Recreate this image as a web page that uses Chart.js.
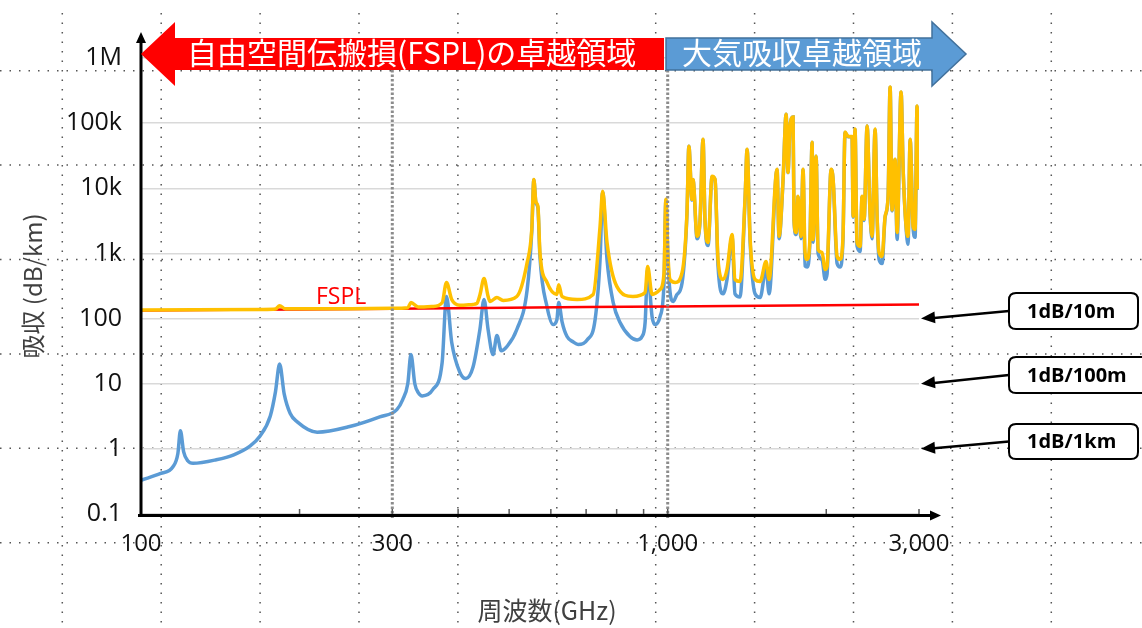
<!DOCTYPE html>
<html>
<head>
<meta charset="utf-8">
<script src="https://cdn.jsdelivr.net/npm/chart.js@4.4.1/dist/chart.umd.min.js"></script>
<style>
  body { margin: 0; background: #fff; }
  canvas { display: block; }
</style>
</head>
<body>
<canvas id="c" width="1142" height="628"></canvas>
<script>
// tick values / labels
const yTicks = [0.1, 1, 10, 100, 1000, 10000, 100000, 1000000]
const yTickLabels = ['0.1', '1', '10', '100', '1k', '10k', '100k', '1M']
const xTicks = [100, 300, 1000, 3000]
const xTickLabels = ['100', '300', '1,000', '3,000']
const xMinorTicks = [200, 300, 400, 500, 600, 700, 800, 900, 1000, 2000, 3000]
const regionLines = [300, 1000]

// atmospheric absorption (blue), dB/km
const absFreq = [100, 109, 115, 117.5, 118.8, 120.5, 122.8, 125.5, 139, 150, 161, 168, 176, 180, 183.3, 187, 192, 198, 216, 249,
  284, 306, 314, 321, 325.5, 331, 336, 342, 358, 373, 380.2, 389, 403, 414, 427, 440, 448, 456, 466, 474,
  483, 495, 517, 541, 552, 557, 562, 567, 572, 590, 606, 616, 621, 630, 644, 661, 676, 703, 728, 744,
  752.5, 767, 788, 812, 848, 875, 894, 906, 916, 934, 946, 967, 984, 992, 1001, 1010, 1024, 1040, 1065, 1088,
  1097, 1112, 1117, 1137, 1152, 1167, 1177, 1193, 1214, 1230, 1246, 1274, 1296, 1325, 1342, 1372, 1403, 1415, 1434, 1465,
  1498, 1537, 1558, 1613, 1627, 1656, 1678, 1692, 1707, 1730, 1737, 1753, 1768, 1791, 1807, 1823, 1839, 1863, 1880, 1888,
  1913, 1930, 1964, 1990, 2007, 2043, 2061, 2097, 2124, 2152, 2171, 2200, 2239, 2249, 2268, 2288, 2319, 2339, 2360, 2391,
  2422, 2444, 2476, 2498, 2520, 2553, 2587, 2621, 2644, 2667, 2702, 2726, 2774, 2799, 2836, 2860, 2886, 2924, 2949, 2975, 3000]
const absVal = [0.33, 0.42, 0.53, 0.85, 1.9, 0.9, 0.65, 0.6, 0.68, 0.81, 1.1, 1.55, 3.2, 7.5, 20, 7, 3.5, 2.6, 1.8, 2.2,
  3.1, 4.0, 5.7, 10, 28, 10, 7.3, 6.5, 8.1, 21, 218, 43, 15, 12, 18, 68, 196, 68, 28, 55,
  32, 37, 68, 279, 2200, 13500, 6000, 5000, 900, 153, 81, 96, 176, 90, 53, 44, 40, 47, 96, 800,
  8800, 800, 176, 87, 53, 47, 53, 87, 560, 107, 81, 107, 358, 6600, 800, 260, 183, 230, 355, 4100,
  44000, 6600, 13500, 1680, 3200, 56000, 3200, 1320, 15000, 13500, 650, 240, 400, 1800, 240, 215, 7400, 39500, 1480, 240,
  210, 590, 240, 19400, 1680, 13500, 137000, 17400, 90000, 124000, 3200, 1950, 7400, 1680, 19400, 640, 620, 1680, 51000, 1480,
  31000, 1000, 800, 400, 480, 19400, 13500, 700, 620, 1680, 72000, 62000, 62000, 3600, 80000, 1300, 1070, 7400, 3200, 90000,
  4100, 1680, 80000, 3600, 800, 700, 3600, 7400, 355000, 4500, 27700, 1640, 298000, 19400, 2400, 1380, 56000, 2400, 1770, 182000, 9500]

// FSPL + absorption (yellow)
const totFreq = [100, 170, 180, 183.3, 188, 250, 300, 321, 325.5, 336, 358, 373, 380.2, 389, 403, 427, 434, 440, 448, 456,
  460, 474, 487, 517, 541, 552, 557, 562, 567, 572, 590, 616, 621, 630, 673, 722, 744, 752.5, 767, 801,
  859, 906, 916, 934, 967, 984, 992, 1001, 1010, 1033, 1065, 1088,
  1097, 1112, 1117, 1137, 1152, 1167, 1177, 1193, 1214, 1230, 1246, 1274, 1296, 1325, 1342, 1372, 1403, 1415, 1434, 1465,
  1498, 1537, 1558, 1613, 1627, 1656, 1678, 1692, 1707, 1730, 1737, 1753, 1768, 1791, 1807, 1823, 1839, 1863, 1880, 1888,
  1913, 1930, 1964, 1990, 2007, 2043, 2061, 2097, 2124, 2152, 2171, 2200, 2239, 2249, 2268, 2288, 2319, 2339, 2360, 2391,
  2422, 2444, 2476, 2498, 2520, 2553, 2587, 2621, 2644, 2667, 2702, 2726, 2774, 2799, 2836, 2860, 2886, 2924, 2949, 2975, 3000]
const totVal = [135, 138, 140, 158, 141, 142, 144, 147, 176, 150, 153, 175, 358, 196, 160, 165, 170, 230, 412, 220,
  183, 210, 190, 218, 728, 2340, 13700, 6200, 5280, 1050, 358, 235, 330, 218, 196, 235, 2600, 9000, 1475, 310,
  218, 251, 631, 235, 279, 500, 6770, 950, 398, 358, 510, 4280,
  44300, 6770, 13700, 1830, 3340, 56700, 3340, 1475, 15300, 13700, 809, 398, 567, 1960, 398, 372, 7540, 39800, 1640, 398,
  372, 750, 398, 19600, 1830, 13700, 137000, 17600, 90000, 124000, 3340, 2100, 7540, 1830, 19600, 1035, 809, 1830, 51000, 1640,
  31000, 1140, 1035, 567, 631, 19600, 13700, 900, 809, 1830, 72800, 62600, 62600, 3710, 81000, 1475, 1280, 7540, 3340, 90000,
  4280, 1830, 81000, 3710, 1035, 900, 3710, 7540, 358000, 4650, 27900, 2100, 300000, 19600, 2560, 1830, 56700, 2560, 2340, 183000, 9660]

// free space path loss over 1 km (red)
const fsplFreq = [100, 150, 200, 300, 500, 700, 1000, 1500, 2000, 3000]
const fsplVal = [133, 136, 138, 142, 147, 150, 153, 157, 160, 165]

const calloutTexts = ['1dB/10m', '1dB/100m', '1dB/1km']

const pts = (xs, ys) => xs.map((x, i) => ({x: x, y: ys[i]}))
const sans = '"Open Sans", "Noto Sans CJK JP", sans-serif'
const jp = '"Noto Sans CJK JP", "Open Sans", sans-serif'

function arrowHead(ctx, x, y, ang, len, half) {
  const c = Math.cos(ang), s = Math.sin(ang)
  ctx.beginPath()
  ctx.moveTo(x, y)
  ctx.lineTo(x - len * c + half * s, y - len * s - half * c)
  ctx.lineTo(x - len * c - half * s, y - len * s + half * c)
  ctx.closePath()
  ctx.fill()
}

function roundRect(ctx, x, y, w, h, r) {
  ctx.beginPath()
  ctx.moveTo(x + r, y)
  ctx.lineTo(x + w - r, y)
  ctx.quadraticCurveTo(x + w, y, x + w, y + r)
  ctx.lineTo(x + w, y + h - r)
  ctx.quadraticCurveTo(x + w, y + h, x + w - r, y + h)
  ctx.lineTo(x + r, y + h)
  ctx.quadraticCurveTo(x, y + h, x, y + h - r)
  ctx.lineTo(x, y + r)
  ctx.quadraticCurveTo(x, y, x + r, y)
  ctx.closePath()
}

const decor = {
  id: 'decor',
  beforeDraw(chart) {
    const ctx = chart.ctx
    ctx.save()
    ctx.fillStyle = '#fff'
    ctx.fillRect(0, 0, chart.width, chart.height)
    // slide guide dots
    ctx.strokeStyle = '#555'
    ctx.lineWidth = 1.5
    ctx.setLineDash([1.5, 8])
    for (let x = 62.3; x < chart.width; x += 98.9) {
      ctx.beginPath(); ctx.moveTo(x, 13); ctx.lineTo(x, chart.height); ctx.stroke()
    }
    for (let y = 70.7; y < chart.height; y += 94.4) {
      ctx.beginPath(); ctx.moveTo(0, y); ctx.lineTo(chart.width, y); ctx.stroke()
    }
    ctx.restore()
  },
  afterDatasetsDraw(chart) {
    const ctx = chart.ctx
    const xs = chart.scales.x
    const area = chart.chartArea
    ctx.save()
    // region boundaries
    ctx.strokeStyle = '#8c8c8c'
    ctx.lineWidth = 3
    ctx.setLineDash([2.5, 2])
    regionLines.forEach(v => {
      const px = xs.getPixelForValue(v)
      ctx.beginPath(); ctx.moveTo(px, 70); ctx.lineTo(px, area.bottom + 6); ctx.stroke()
    })
    ctx.setLineDash([])
    // axes
    ctx.strokeStyle = '#000'
    ctx.fillStyle = '#000'
    ctx.lineWidth = 3
    ctx.beginPath(); ctx.moveTo(area.left, area.bottom + 3); ctx.lineTo(area.left, 42); ctx.stroke()
    arrowHead(ctx, area.left, 32, -Math.PI / 2, 11, 5)
    ctx.beginPath(); ctx.moveTo(area.left - 3, area.bottom + 1.5); ctx.lineTo(932, area.bottom + 1.5); ctx.stroke()
    arrowHead(ctx, 941, area.bottom + 1.5, 0, 11, 5)
    // minor ticks on x axis
    ctx.strokeStyle = '#595959'
    ctx.lineWidth = 1.5
    xMinorTicks.forEach(v => {
      const px = xs.getPixelForValue(v)
      ctx.beginPath(); ctx.moveTo(px, area.bottom); ctx.lineTo(px, area.bottom - 5); ctx.stroke()
    })
    ctx.restore()
  },
  afterDraw(chart) {
    const ctx = chart.ctx
    const ys = chart.scales.y
    ctx.save()
    // red banner (left arrow)
    ctx.fillStyle = '#ff0000'
    ctx.beginPath()
    ctx.moveTo(141, 54); ctx.lineTo(175, 22); ctx.lineTo(175, 38); ctx.lineTo(664, 38)
    ctx.lineTo(664, 70); ctx.lineTo(175, 70); ctx.lineTo(175, 86); ctx.closePath()
    ctx.fill()
    // blue banner (right arrow)
    ctx.fillStyle = '#5b9bd5'
    ctx.strokeStyle = '#41719c'
    ctx.lineWidth = 1.5
    ctx.beginPath()
    ctx.moveTo(666, 38); ctx.lineTo(932, 38); ctx.lineTo(932, 22); ctx.lineTo(966, 54)
    ctx.lineTo(932, 86); ctx.lineTo(932, 70); ctx.lineTo(666, 70); ctx.closePath()
    ctx.fill(); ctx.stroke()
    ctx.fillStyle = '#fff'
    ctx.textBaseline = 'middle'
    ctx.textAlign = 'left'
    ctx.font = '30px ' + jp
    ctx.fillText('自由空間伝搬損(FSPL)の卓越領域', 187, 53)
    ctx.fillText('大気吸収卓越領域', 682, 53)
    // FSPL label
    ctx.fillStyle = '#ff0000'
    ctx.font = '23px ' + sans
    ctx.fillText('FSPL', 316, 297)
    // x axis title
    ctx.fillStyle = '#404040'
    ctx.textAlign = 'center'
    ctx.font = '25px ' + jp
    ctx.fillText('周波数(GHz)', 547, 610)
    // callouts
    const boxes = [[1009, 293, 129, 36], [1009, 357, 150, 36], [1009, 424, 129, 35]]
    const targets = [100, 10, 1]
    boxes.forEach((b, i) => {
      const ty = ys.getPixelForValue(targets[i])
      const sy = b[1] + b[3] / 2
      ctx.strokeStyle = '#000'
      ctx.fillStyle = '#000'
      ctx.lineWidth = 2.5
      ctx.beginPath(); ctx.moveTo(b[0], sy); ctx.lineTo(934, ty - 0.6); ctx.stroke()
      arrowHead(ctx, 921, ty, Math.atan2(ty - sy, 921 - b[0]), 14, 6)
      roundRect(ctx, b[0], b[1], b[2], b[3], 7)
      ctx.fillStyle = '#fff'
      ctx.fill()
      ctx.lineWidth = 2
      ctx.stroke()
      ctx.fillStyle = '#000'
      ctx.textAlign = 'left'
      ctx.font = 'bold 20px ' + sans
      ctx.fillText(calloutTexts[i], 1027, sy + 1)
    })
    ctx.restore()
  }
}

new Chart(document.getElementById('c'), {
  type: 'line',
  data: {
    datasets: [
      {
        label: 'FSPL+吸収',
        data: pts(totFreq, totVal),
        borderColor: '#ffc000',
        borderWidth: 3.5,
        pointRadius: 0,
        cubicInterpolationMode: 'monotone'
      },
      {
        label: 'FSPL',
        data: pts(fsplFreq, fsplVal),
        borderColor: '#ff0000',
        borderWidth: 2.5,
        pointRadius: 0
      },
      {
        label: '大気吸収',
        data: pts(absFreq, absVal),
        borderColor: '#5b9bd5',
        borderWidth: 3.5,
        pointRadius: 0,
        cubicInterpolationMode: 'monotone'
      }
    ]
  },
  options: {
    responsive: false,
    animation: false,
    layout: { padding: { top: 58, right: 223, left: 0, bottom: 0 } },
    plugins: { legend: { display: false }, tooltip: { enabled: false } },
    scales: {
      x: {
        type: 'logarithmic',
        min: 100,
        max: 3000,
        afterBuildTicks: s => { s.ticks = xTicks.map(v => ({ value: v })) },
        afterFit: s => { s.height = 114 },
        grid: { display: false, drawTicks: false },
        border: { display: false },
        ticks: {
          autoSkip: false,
          maxRotation: 0,
          padding: 16,
          color: '#111',
          font: { family: sans, size: 24 },
          callback: (v, i) => xTickLabels[i]
        }
      },
      y: {
        type: 'logarithmic',
        min: 0.1,
        max: 1000000,
        afterBuildTicks: s => { s.ticks = yTicks.map(v => ({ value: v })) },
        afterFit: s => { s.width = 141 },
        grid: { color: '#d9d9d9', lineWidth: 1.5, drawTicks: false },
        border: { display: false },
        ticks: {
          padding: 19,
          color: '#111',
          font: { family: sans, size: 25 },
          callback: (v, i) => yTickLabels[i]
        },
        title: {
          display: true,
          text: '吸収 (dB/km)',
          color: '#404040',
          font: { family: jp, size: 24 },
          padding: { top: 18, bottom: 0 }
        }
      }
    }
  },
  plugins: [decor]
})
</script>
</body>
</html>
